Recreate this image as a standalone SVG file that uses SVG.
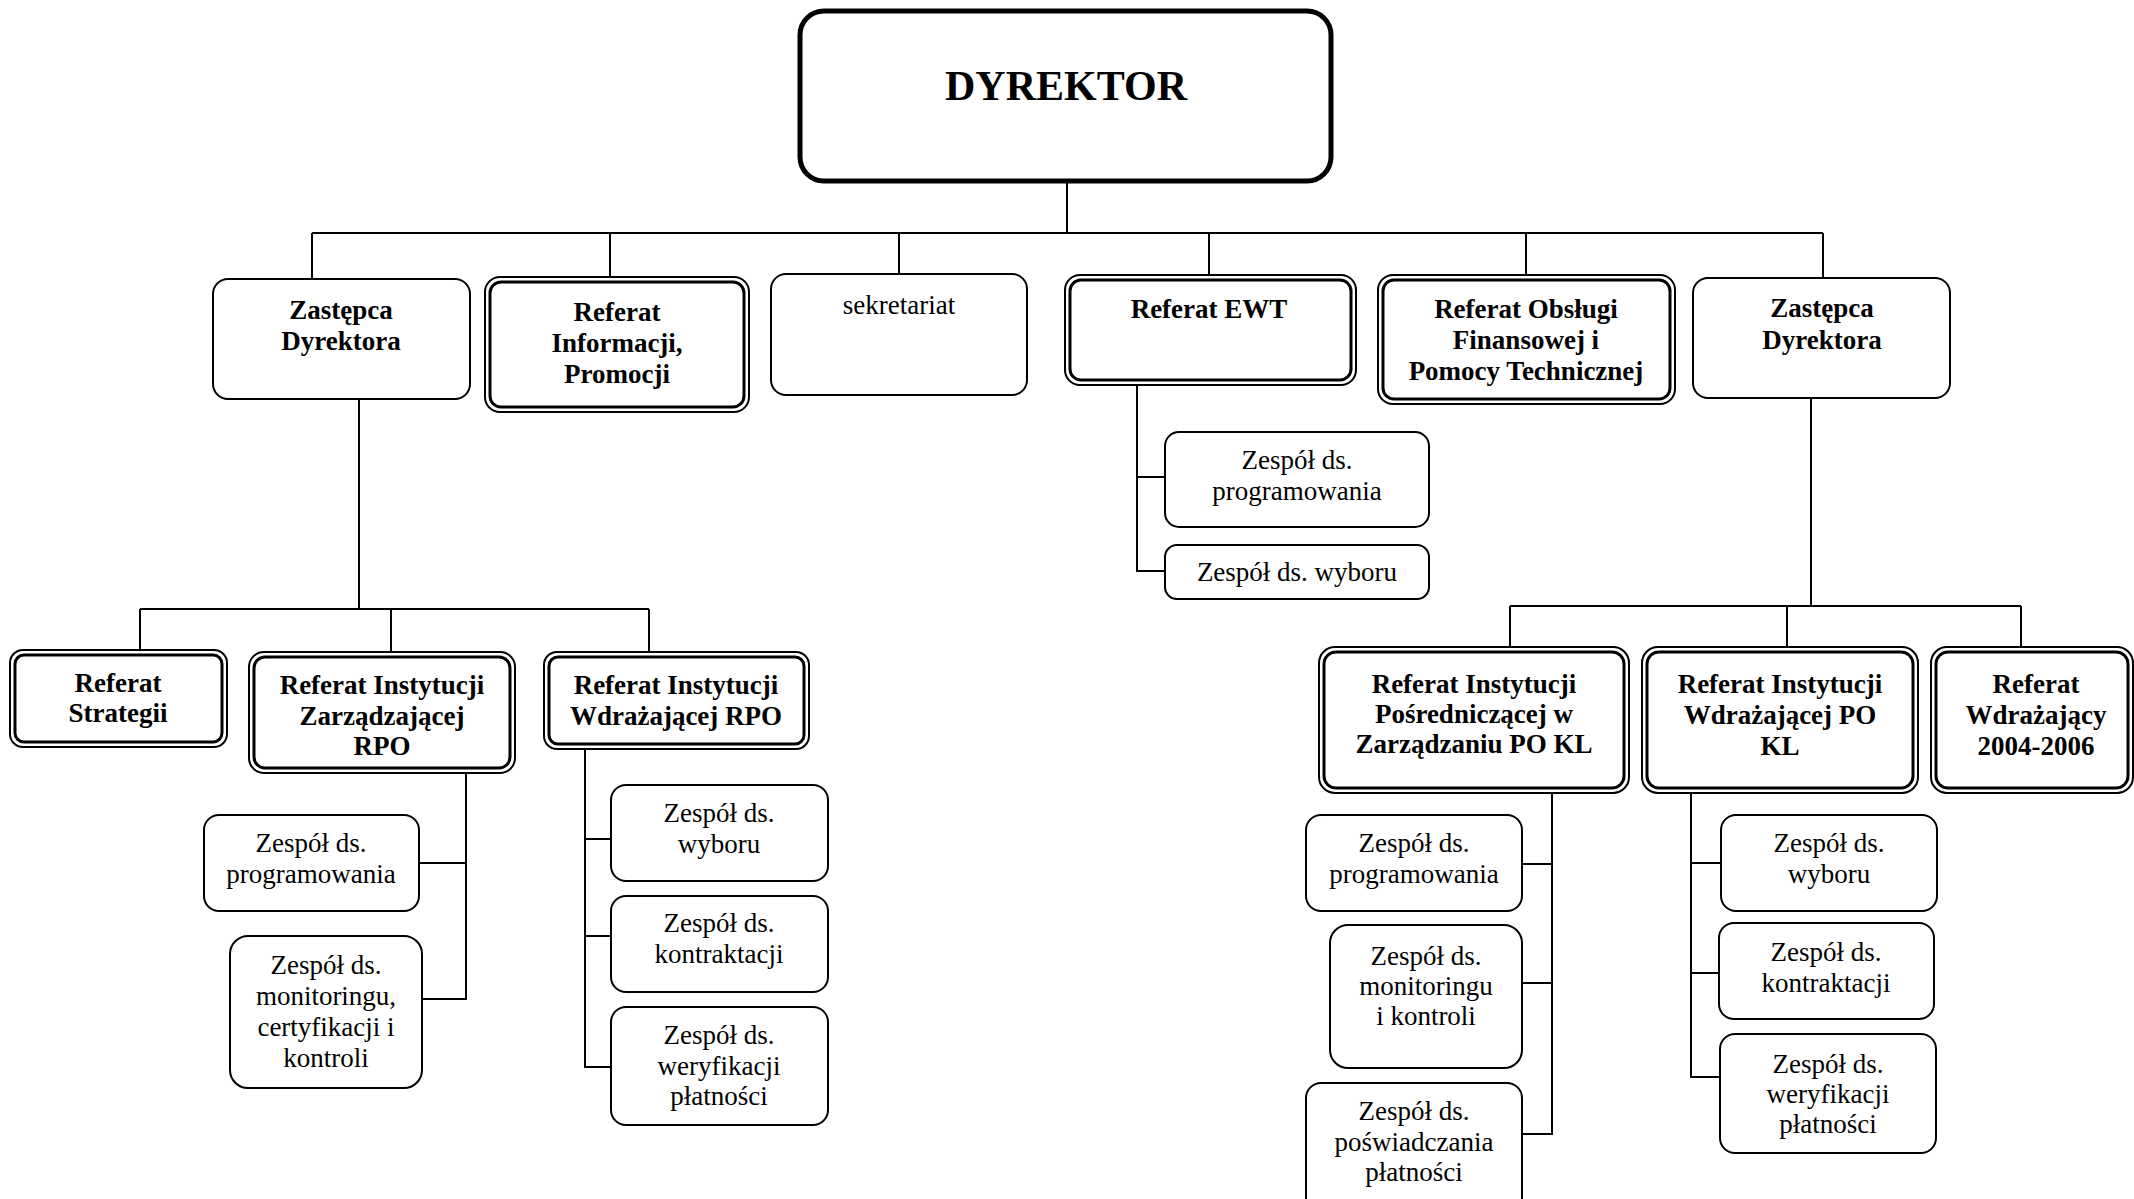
<svg xmlns="http://www.w3.org/2000/svg" width="2134" height="1199" viewBox="0 0 2134 1199">
  <style>
    .bg { fill: #ffffff; }
    .box { fill: #ffffff; stroke: #000000; stroke-width: 2; }
    .outer { fill: #ffffff; stroke: #000000; stroke-width: 2; }
    .inner { fill: none; stroke: #000000; stroke-width: 3; }
    .main { fill: #ffffff; stroke: #000000; stroke-width: 5; }
    .link { fill: none; stroke: #000000; stroke-width: 2; }
    text { font-family: "Liberation Serif", "Times New Roman", serif; font-size: 27px; fill: #000000; text-anchor: middle; }
    .b { font-weight: bold; }
    .title { font-size: 42px; font-weight: bold; }
  </style>

  <rect class="bg" x="0" y="0" width="2134" height="1199"/>

  <!-- connectors -->
  <g id="connectors">
    <!-- director to first level -->
    <path class="link" d="M1067 182 V233 M312 233 H1823 M312 233 V279 M610 233 V277 M899 233 V274 M1209 233 V275 M1526 233 V275 M1823 233 V278"/>
    <!-- left deputy to its units -->
    <path class="link" d="M359 399 V609 M140 609 H649 M140 609 V650 M391 609 V652 M649 609 V652"/>
    <!-- right deputy to its units -->
    <path class="link" d="M1811 399 V606 M1510 606 H2021 M1510 606 V647 M1787 606 V647 M2021 606 V647"/>
    <!-- Referat EWT teams -->
    <path class="link" d="M1137 386 V571 H1165 M1137 477 H1165"/>
    <!-- IZ RPO teams -->
    <path class="link" d="M466 773 V999 H422 M466 863 H419"/>
    <!-- Wdrazajaca RPO teams -->
    <path class="link" d="M585 749 V1067 H611 M585 839 H611 M585 936 H611"/>
    <!-- IP PO KL teams -->
    <path class="link" d="M1552 793 V1134 H1522 M1552 864 H1522 M1552 983 H1522"/>
    <!-- Wdrazajaca PO KL teams -->
    <path class="link" d="M1691 793 V1077 H1720 M1691 863 H1721 M1691 973 H1719"/>
  </g>

  <!-- director -->
  <g id="dyrektor">
    <rect class="main" x="800" y="11" width="531" height="170" rx="24"/>
    <text class="title" x="1066" y="100">DYREKTOR</text>
  </g>

  <!-- first level -->
  <g id="zastepca-lewy">
    <rect class="box" x="213" y="279" width="257" height="120" rx="15"/>
    <text class="b" x="341" y="319">Zastępca</text>
    <text class="b" x="341" y="350">Dyrektora</text>
  </g>

  <g id="referat-informacji">
    <rect class="outer" x="485" y="277" width="264" height="135" rx="15"/>
    <rect class="inner" x="490" y="282" width="254" height="125" rx="11"/>
    <text class="b" x="617" y="321">Referat</text>
    <text class="b" x="617" y="352">Informacji,</text>
    <text class="b" x="617" y="383">Promocji</text>
  </g>

  <g id="sekretariat">
    <rect class="box" x="771" y="274" width="256" height="121" rx="15"/>
    <text x="899" y="314">sekretariat</text>
  </g>

  <g id="referat-ewt">
    <rect class="outer" x="1065" y="275" width="291" height="110" rx="15"/>
    <rect class="inner" x="1070" y="280" width="281" height="100" rx="11"/>
    <text class="b" x="1209" y="318">Referat EWT</text>
  </g>

  <g id="referat-obslugi">
    <rect class="outer" x="1378" y="275" width="297" height="129" rx="15"/>
    <rect class="inner" x="1383" y="280" width="287" height="119" rx="11"/>
    <text class="b" x="1526" y="318">Referat Obsługi</text>
    <text class="b" x="1526" y="349">Finansowej i</text>
    <text class="b" x="1526" y="380">Pomocy Technicznej</text>
  </g>

  <g id="zastepca-prawy">
    <rect class="box" x="1693" y="278" width="257" height="120" rx="15"/>
    <text class="b" x="1822" y="317">Zastępca</text>
    <text class="b" x="1822" y="349">Dyrektora</text>
  </g>

  <!-- Referat EWT teams -->
  <g id="ewt-programowanie">
    <rect class="box" x="1165" y="432" width="264" height="95" rx="14"/>
    <text x="1297" y="469">Zespół ds.</text>
    <text x="1297" y="500">programowania</text>
  </g>

  <g id="ewt-wybor">
    <rect class="box" x="1165" y="545" width="264" height="54" rx="12"/>
    <text x="1297" y="581">Zespół ds. wyboru</text>
  </g>

  <!-- left deputy units -->
  <g id="referat-strategii">
    <rect class="outer" x="10" y="650" width="217" height="97" rx="13"/>
    <rect class="inner" x="15" y="655" width="207" height="87" rx="9"/>
    <text class="b" x="118" y="692">Referat</text>
    <text class="b" x="118" y="722">Strategii</text>
  </g>

  <g id="referat-iz-rpo">
    <rect class="outer" x="249" y="652" width="266" height="121" rx="15"/>
    <rect class="inner" x="254" y="657" width="256" height="111" rx="11"/>
    <text class="b" x="382" y="694">Referat Instytucji</text>
    <text class="b" x="382" y="725">Zarządzającej</text>
    <text class="b" x="382" y="755">RPO</text>
  </g>

  <g id="referat-iw-rpo">
    <rect class="outer" x="544" y="652" width="265" height="97" rx="13"/>
    <rect class="inner" x="549" y="657" width="255" height="87" rx="9"/>
    <text class="b" x="676" y="694">Referat Instytucji</text>
    <text class="b" x="676" y="725">Wdrażającej RPO</text>
  </g>

  <!-- IZ RPO teams -->
  <g id="rpo-programowanie">
    <rect class="box" x="204" y="815" width="215" height="96" rx="15"/>
    <text x="311" y="852">Zespół ds.</text>
    <text x="311" y="883">programowania</text>
  </g>

  <g id="rpo-monitoring">
    <rect class="box" x="230" y="936" width="192" height="152" rx="18"/>
    <text x="326" y="974">Zespół ds.</text>
    <text x="326" y="1005">monitoringu,</text>
    <text x="326" y="1036">certyfikacji i</text>
    <text x="326" y="1067">kontroli</text>
  </g>

  <!-- IW RPO teams -->
  <g id="rpo-wybor">
    <rect class="box" x="611" y="785" width="217" height="96" rx="15"/>
    <text x="719" y="822">Zespół ds.</text>
    <text x="719" y="853">wyboru</text>
  </g>

  <g id="rpo-kontraktacja">
    <rect class="box" x="611" y="896" width="217" height="96" rx="15"/>
    <text x="719" y="932">Zespół ds.</text>
    <text x="719" y="963">kontraktacji</text>
  </g>

  <g id="rpo-weryfikacja">
    <rect class="box" x="611" y="1007" width="217" height="118" rx="15"/>
    <text x="719" y="1044">Zespół ds.</text>
    <text x="719" y="1075">weryfikacji</text>
    <text x="719" y="1105">płatności</text>
  </g>

  <!-- right deputy units -->
  <g id="referat-ip-pokl">
    <rect class="outer" x="1319" y="647" width="310" height="146" rx="16"/>
    <rect class="inner" x="1324" y="652" width="300" height="136" rx="12"/>
    <text class="b" x="1474" y="693">Referat Instytucji</text>
    <text class="b" x="1474" y="723">Pośredniczącej w</text>
    <text class="b" x="1474" y="753">Zarządzaniu PO KL</text>
  </g>

  <g id="referat-iw-pokl">
    <rect class="outer" x="1642" y="647" width="276" height="146" rx="16"/>
    <rect class="inner" x="1647" y="652" width="266" height="136" rx="12"/>
    <text class="b" x="1780" y="693">Referat Instytucji</text>
    <text class="b" x="1780" y="724">Wdrażającej PO</text>
    <text class="b" x="1780" y="755">KL</text>
  </g>

  <g id="referat-wdrazajacy">
    <rect class="outer" x="1931" y="647" width="202" height="146" rx="16"/>
    <rect class="inner" x="1936" y="652" width="192" height="136" rx="12"/>
    <text class="b" x="2036" y="693">Referat</text>
    <text class="b" x="2036" y="724">Wdrażający</text>
    <text class="b" x="2036" y="755">2004-2006</text>
  </g>

  <!-- IP PO KL teams -->
  <g id="pokl-programowanie">
    <rect class="box" x="1306" y="815" width="216" height="96" rx="15"/>
    <text x="1414" y="852">Zespół ds.</text>
    <text x="1414" y="883">programowania</text>
  </g>

  <g id="pokl-monitoring">
    <rect class="box" x="1330" y="925" width="192" height="143" rx="18"/>
    <text x="1426" y="965">Zespół ds.</text>
    <text x="1426" y="995">monitoringu</text>
    <text x="1426" y="1025">i kontroli</text>
  </g>

  <g id="pokl-poswiadczanie">
    <rect class="box" x="1306" y="1083" width="216" height="130" rx="15"/>
    <text x="1414" y="1120">Zespół ds.</text>
    <text x="1414" y="1151">poświadczania</text>
    <text x="1414" y="1181">płatności</text>
  </g>

  <!-- IW PO KL teams -->
  <g id="pokl-wybor">
    <rect class="box" x="1721" y="815" width="216" height="96" rx="15"/>
    <text x="1829" y="852">Zespół ds.</text>
    <text x="1829" y="883">wyboru</text>
  </g>

  <g id="pokl-kontraktacja">
    <rect class="box" x="1719" y="923" width="215" height="96" rx="15"/>
    <text x="1826" y="961">Zespół ds.</text>
    <text x="1826" y="992">kontraktacji</text>
  </g>

  <g id="pokl-weryfikacja">
    <rect class="box" x="1720" y="1034" width="216" height="119" rx="15"/>
    <text x="1828" y="1073">Zespół ds.</text>
    <text x="1828" y="1103">weryfikacji</text>
    <text x="1828" y="1133">płatności</text>
  </g>
</svg>
